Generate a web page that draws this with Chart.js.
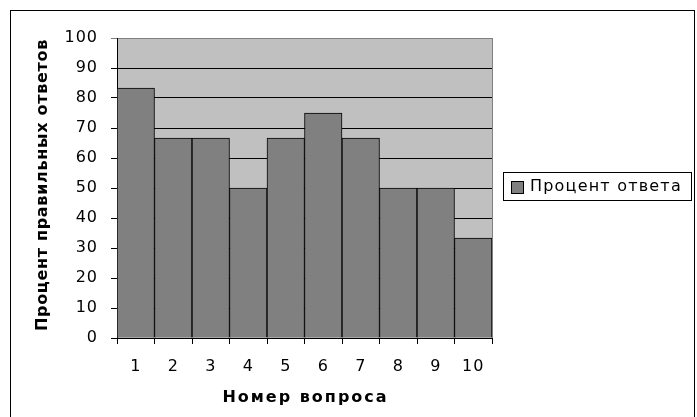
<!DOCTYPE html>
<html>
<head>
<meta charset="utf-8">
<script src="https://cdn.jsdelivr.net/npm/chart.js@4.4.0/dist/chart.umd.min.js"></script>
<style>
  body { margin: 0; background: #fff; }
  #wrap { width: 697px; height: 417px; }
</style>
</head>
<body>
<div id="wrap"><canvas id="myChart" width="697" height="417"></canvas></div>
<script>
// data
const questions = ["1", "2", "3", "4", "5", "6", "7", "8", "9", "10"];
const percentRight = [83.33, 66.67, 66.67, 50, 66.67, 75, 66.67, 50, 50, 33.33];
const seriesName = "Процент ответа";
const yTitle = "Процент правильных ответов";
const xTitle = "Номер вопроса";

const tickFont = { family: "DejaVu Sans", size: 16 };

// plot background, frame, axis titles and legend (Excel 97 look)
const excelLook = {
  id: "excelLook",
  beforeDraw(chart) {
    const { ctx, chartArea: a } = chart;
    ctx.save();
    ctx.fillStyle = "#fff";
    ctx.fillRect(0, 0, chart.width, chart.height);
    // outer frame
    ctx.strokeStyle = "#000";
    ctx.lineWidth = 1;
    ctx.strokeRect(10.5, 10.5, 684, 420);
    // plot area
    ctx.fillStyle = "#c0c0c0";
    ctx.fillRect(a.left, a.top, a.right - a.left, a.bottom - a.top);
    ctx.restore();
    // wide old-style lettering for the tick labels
    ctx.letterSpacing = "1px";
  },
  afterDraw(chart) {
    const { ctx, chartArea: a } = chart;
    ctx.save();
    ctx.strokeStyle = "#808080";
    ctx.lineWidth = 1;
    ctx.beginPath();
    ctx.moveTo(a.right + 0.5, a.top);
    ctx.lineTo(a.right + 0.5, a.bottom);
    ctx.stroke();

    // axis titles
    ctx.fillStyle = "#000";
    ctx.textAlign = "center";
    ctx.textBaseline = "middle";
    ctx.font = "bold 16px 'DejaVu Sans'";
    ctx.letterSpacing = "2px";
    ctx.fillText(xTitle, (a.left + a.right) / 2 + 1, 398);
    ctx.save();
    ctx.translate(43, 185);
    ctx.rotate(-Math.PI / 2);
    ctx.letterSpacing = "0.7px";
    ctx.fillText(yTitle, 0, 0);
    ctx.restore();

    // legend
    const ds = chart.data.datasets[0];
    ctx.strokeStyle = "#000";
    ctx.strokeRect(503.5, 172.5, 188, 28);
    ctx.fillStyle = ds.backgroundColor;
    ctx.fillRect(511, 181, 12, 12);
    ctx.strokeRect(511.5, 181.5, 12, 12);
    ctx.fillStyle = "#000";
    ctx.font = "16px 'DejaVu Sans'";
    ctx.letterSpacing = "1.2px";
    ctx.textAlign = "left";
    ctx.fillText(ds.label, 530, 187);
    ctx.restore();
  }
};

const myChart = new Chart(document.getElementById("myChart"), {
  type: "bar",
  data: {
    labels: questions,
    datasets: [
      {
        label: seriesName,
        data: percentRight,
        backgroundColor: "#808080",
        borderColor: "#000",
        borderWidth: 1,
        categoryPercentage: 1,
        barPercentage: 1,
      },
    ],
  },
  options: {
    responsive: false,
    animation: false,
    layout: { padding: { left: 0, top: 38, right: 205, bottom: 0 } },
    plugins: {
      legend: { display: false },
      tooltip: { enabled: false },
    },
    scales: {
      x: {
        afterFit: (s) => { s.height = 79; },
        grid: { drawOnChartArea: false, tickLength: 6, color: "#000" },
        border: { color: "#000" },
        ticks: { color: "#000", font: tickFont, padding: 13 },
      },
      y: {
        min: 0,
        max: 100,
        afterFit: (s) => { s.width = 117; },
        grid: {
          tickLength: 6,
          color: (c) => (c.tick && c.tick.value === 100 ? "#808080" : "#000"),
        },
        border: { color: "#000" },
        ticks: { stepSize: 10, color: "#000", font: tickFont, padding: 13 },
      },
    },
  },
  plugins: [excelLook],
});
</script>
</body>
</html>
